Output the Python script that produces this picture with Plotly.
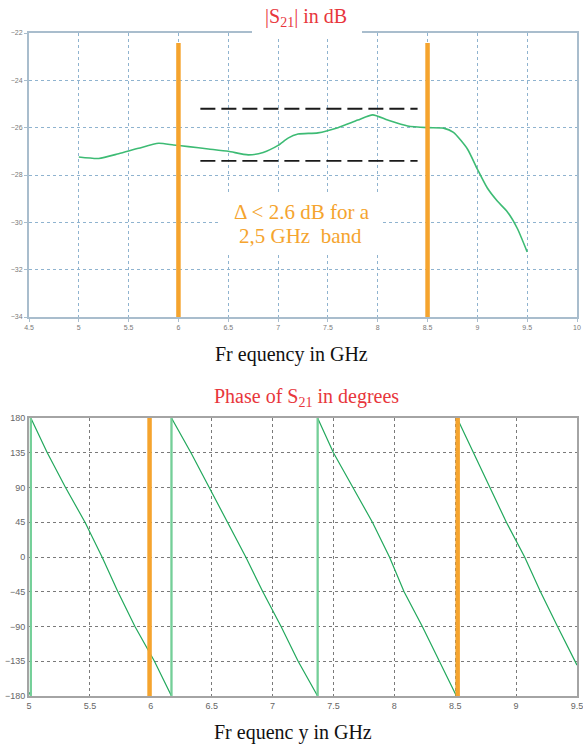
import plotly.graph_objects as go

# |S21| magnitude (dB) versus frequency (GHz)
mag_freq = [5.0, 5.2, 5.4, 5.6, 5.8, 5.95, 6.1, 6.3, 6.5, 6.7, 6.85, 7.0, 7.1, 7.2,
            7.4, 7.6, 7.8, 7.95, 8.1, 8.3, 8.5, 8.66, 8.76, 8.9, 9.0, 9.1, 9.2,
            9.3, 9.4, 9.5]
mag_db = [-27.24, -27.3, -27.1, -26.87, -26.66, -26.73, -26.8, -26.9, -27.0, -27.15,
          -27.05, -26.75, -26.44, -26.27, -26.22, -26.0, -25.68, -25.46, -25.68,
          -25.93, -26.0, -26.02, -26.2, -26.9, -27.75, -28.55, -29.1, -29.55,
          -30.25, -31.25]

# Phase of S21 (degrees), wrapped into [-180, 180]
phase_freq = [5.0, 5.015,
              5.015, 5.15, 5.30, 5.46, 5.60, 5.73, 5.87, 6.03, 6.17,
              6.17, 6.33, 6.48, 6.63, 6.78, 6.92, 7.07, 7.21, 7.37,
              7.37, 7.50, 7.66, 7.82, 7.96, 8.08, 8.23, 8.37, 8.51,
              8.515, 8.65, 8.78, 8.92, 9.07, 9.20, 9.34, 9.48, 9.5]
phase_deg = [-175, -180,
             180, 135, 90, 45, 0, -45, -90, -135, -180,
             180, 135, 90, 45, 0, -45, -90, -135, -180,
             180, 135, 90, 45, 0, -45, -90, -135, -180,
             180, 135, 90, 45, 0, -45, -90, -135, -140]

# Band edges and flatness bounds
mag_band = [6.0, 8.5]
phase_band = [5.99, 8.52]
flat_bounds = [-25.2, -27.4]
flat_span = [6.22, 8.4]

mag_xticks = [4.5, 5, 5.5, 6, 6.5, 7, 7.5, 8, 8.5, 9, 9.5, 10]
mag_yticks = [-22, -24, -26, -28, -30, -32, -34]
phase_xticks = [5, 5.5, 6, 6.5, 7, 7.5, 8, 8.5, 9, 9.5]
phase_yticks = [180, 135, 90, 45, 0, -45, -90, -135, -180]

W, H = 583, 746
ORANGE = "#F5A42E"
RED = "#E8363C"


def px_x(p):
    return p / W


def px_y(p):
    return 1 - p / H


fig = go.Figure()

# ---- magnitude panel ----
fig.add_trace(go.Scatter(x=mag_freq, y=mag_db, mode="lines",
                         line=dict(color="#3DBB74", width=1.6, shape="spline", smoothing=0.6),
                         xaxis="x", yaxis="y", hoverinfo="skip"))
for yb in flat_bounds:
    fig.add_trace(go.Scatter(x=flat_span, y=[yb, yb], mode="lines",
                             line=dict(color="#1a1a1a", width=1.8, dash="15px,6px"),
                             xaxis="x", yaxis="y", hoverinfo="skip"))
for fb in mag_band:
    fig.add_trace(go.Scatter(x=[fb, fb], y=[-22.42, -34], mode="lines",
                             line=dict(color=ORANGE, width=4.5),
                             xaxis="x", yaxis="y", hoverinfo="skip"))

# ---- phase panel ----
fig.add_trace(go.Scatter(x=phase_freq, y=phase_deg, mode="lines", line=dict(color="#22A85C", width=1.2),
                         xaxis="x2", yaxis="y2", hoverinfo="skip"))
# vertical wrap jumps, drawn a bit lighter
jx, jy = [], []
for i in range(1, len(phase_freq)):
    if phase_freq[i] == phase_freq[i - 1] and phase_deg[i] != phase_deg[i - 1]:
        jx += [phase_freq[i], phase_freq[i], None]
        jy += [phase_deg[i - 1], phase_deg[i], None]
fig.add_trace(go.Scatter(x=jx, y=jy, mode="lines", line=dict(color="#74CF98", width=2.2),
                         xaxis="x2", yaxis="y2", hoverinfo="skip"))
for fb in phase_band:
    fig.add_trace(go.Scatter(x=[fb, fb], y=[180, -180], mode="lines",
                             line=dict(color=ORANGE, width=4.5),
                             xaxis="x2", yaxis="y2", hoverinfo="skip"))

top_axis = dict(showline=True, mirror=True, linecolor="#A9BDCD", linewidth=2,
                showgrid=True, gridcolor="#8FB3CF", griddash="dot", gridwidth=1,
                zeroline=False, ticks="outside", ticklen=3, tickcolor="#A9BDCD",
                automargin=False, ticklabeloverflow="allow",
                tickfont=dict(family="Liberation Sans", size=7, color="#7A7A7A"))
bot_axis = dict(showline=True, mirror=True, linecolor="#A4A4A4", linewidth=2,
                showgrid=True, gridcolor="#7A7A7A", griddash="dot", gridwidth=1,
                zeroline=False, ticks="", automargin=False, ticklabeloverflow="allow",
                tickfont=dict(family="Liberation Sans", size=9, color="#666666"))

fig.update_layout(
    width=W, height=H, margin=dict(l=0, r=0, t=0, b=0, pad=0, autoexpand=False),
    paper_bgcolor="white", plot_bgcolor="white", showlegend=False,
    xaxis=dict(domain=[px_x(29), px_x(577)], range=[4.5, 10], tickvals=mag_xticks,
               anchor="y", **top_axis),
    yaxis=dict(domain=[px_y(317), px_y(33)], range=[-34, -22], tickvals=mag_yticks,
               anchor="x", **top_axis),
    xaxis2=dict(domain=[px_x(29), px_x(577)], range=[5, 9.5], tickvals=phase_xticks,
                anchor="y2", **bot_axis),
    yaxis2=dict(domain=[px_y(696), px_y(418)], range=[-180, 180], tickvals=phase_yticks,
                anchor="x2", **bot_axis),
)

# white patch behind the magnitude title, breaking the frame
fig.add_shape(type="rect", xref="paper", yref="paper", layer="above",
              x0=px_x(252), x1=px_x(362), y0=px_y(36), y1=1,
              fillcolor="white", line=dict(width=0))
# white box behind the flatness note
fig.add_shape(type="rect", xref="paper", yref="paper", layer="above",
              x0=px_x(220), x1=px_x(383), y0=px_y(254), y1=px_y(192),
              fillcolor="white", line=dict(width=0))

serif = "Liberation Serif"


def label(x, y, text, size, color):
    fig.add_annotation(x=px_x(x), y=px_y(y), xref="paper", yref="paper", showarrow=False,
                       xanchor="center", yanchor="middle", text=text,
                       font=dict(family=serif, size=size, color=color))


label(306, 17, "|S<sub>21</sub>| in dB", 20, RED)
label(302, 212, "\u0394 < 2.6 dB for a", 21, ORANGE)
label(300, 236, "2,5 GHz  band", 21, ORANGE)
label(291, 354, "Fr equency in GHz", 20, "#111")
label(306, 397, "Phase of S<sub>21</sub> in degrees", 20, RED)
label(293, 732, "Fr equenc y in GHz", 20, "#111")

fig.write_html("out.html")
